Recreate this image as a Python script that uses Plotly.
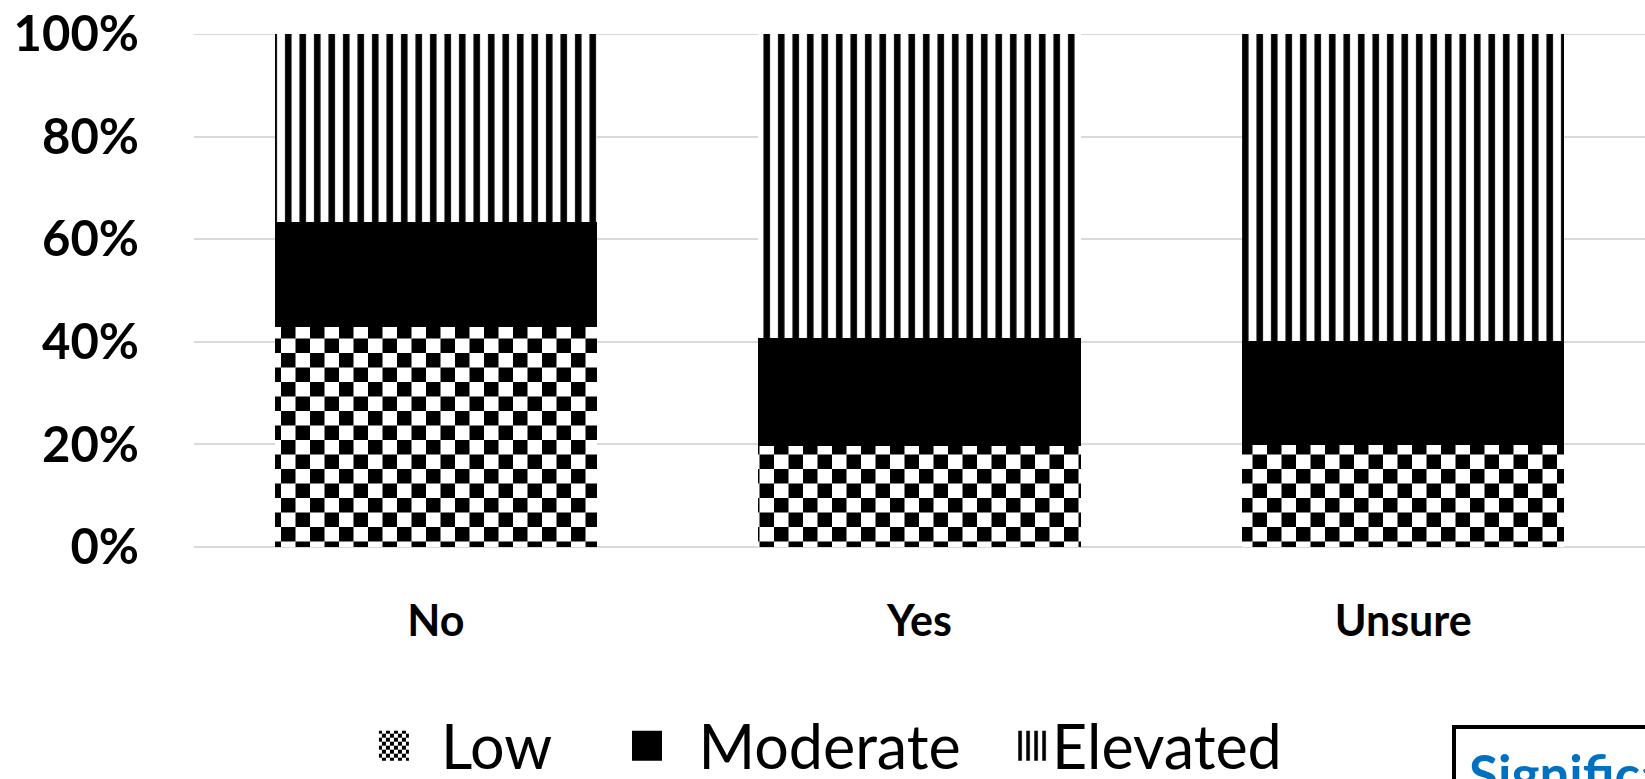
import plotly.graph_objects as go

# Category axis and stacked shares (percent of each group)
categories = ["No", "Yes", "Unsure"]
low = [42.8, 19.7, 19.8]
moderate = [20.5, 21.1, 20.4]
elevated = [36.7, 59.2, 59.8]

series_names = ["Low", "Moderate", "Elevated"]
y_ticks = [0, 20, 40, 60, 80, 100]
y_tick_labels = ["0%", "20%", "40%", "60%", "80%", "100%"]
note_text = "Significant"

FONT = "Lato, 'Open Sans', 'Noto Sans', sans-serif"
GRID = "#d9d9d9"
SWATCH_HALF = 15  # half side of the enlarged legend swatch, px

fig = go.Figure()

# Low: checkerboard texture (dot pattern is swapped for a checker tile after render)
fig.add_trace(go.Bar(
    x=categories, y=low, name=series_names[0], legend="legend",
    marker=dict(color="white", line=dict(width=0),
                pattern=dict(shape=".", size=29, solidity=0.3, fgcolor="black",
                             bgcolor="white", fillmode="replace")),
    hoverinfo="skip",
))
# Moderate: solid black
fig.add_trace(go.Bar(
    x=categories, y=moderate, name=series_names[1], legend="legend2",
    marker=dict(color="black", line=dict(width=0)),
    hoverinfo="skip",
))
# Elevated: vertical stripes
fig.add_trace(go.Bar(
    x=categories, y=elevated, name=series_names[2], legend="legend3",
    marker=dict(color="white", line=dict(width=0),
                pattern=dict(shape="|", size=14.5, solidity=0.45, fgcolor="black",
                             bgcolor="white", fillmode="replace")),
    hoverinfo="skip",
))

legend_font = dict(family=FONT, size=61, color="black")
legend_common = dict(orientation="h", yanchor="middle", xanchor="left", y=-0.388,
                     font=legend_font, bgcolor="rgba(0,0,0,0)", borderwidth=0)

fig.update_layout(
    width=1645, height=779,
    barmode="stack", bargap=0.334,
    paper_bgcolor="white", plot_bgcolor="white",
    margin=dict(l=194, r=0, t=34, b=232, pad=0, autoexpand=False),
    showlegend=True,
    legend=dict(x=0.1054, itemwidth=84, **legend_common),
    legend2=dict(x=0.2767, itemwidth=93, **legend_common),
    legend3=dict(x=0.5638, itemwidth=30, **legend_common),
    xaxis=dict(
        showgrid=False, showline=False, zeroline=False, ticks="",
        tickfont=dict(family=FONT, size=43, color="black", weight="bold"),
        ticklabelstandoff=45,
    ),
    yaxis=dict(
        range=[0, 100], tickvals=y_ticks, ticktext=y_tick_labels,
        showgrid=True, gridcolor=GRID, gridwidth=2,
        zeroline=True, zerolinecolor=GRID, zerolinewidth=2,
        showline=False, ticks="",
        tickfont=dict(family=FONT, size=49, color="black", weight="bold"),
        ticklabelstandoff=54,
    ),
    # top gridline sits on the plot edge, where the axis grid is not drawn
    shapes=[dict(type="line", xref="paper", yref="y", x0=0, x1=1,
                 y0=y_ticks[-1], y1=y_ticks[-1], layer="below",
                 line=dict(color=GRID, width=2))],
    annotations=[dict(
        xref="paper", yref="paper", x=0.867, y=-0.3473,
        xanchor="left", yanchor="top", align="left",
        text=note_text, showarrow=False,
        font=dict(family=FONT, size=53, color="#0070C0", weight="bold"),
        bordercolor="black", borderwidth=4, borderpad=13, bgcolor="white",
    )],
)

post_js = """
var gd = document.getElementById('{plot_id}');
var ns = 'http://www.w3.org/2000/svg';
gd.querySelectorAll('pattern').forEach(function (p) {
  if (!p.querySelector('circle')) return;
  var s = parseFloat(p.getAttribute('width')) / 2;
  while (p.firstChild) p.removeChild(p.firstChild);
  [[0, 0, 2 * s, '#ffffff'], [0, 0, s, '#000000'], [s, s, s, '#000000']].forEach(function (c) {
    var r = document.createElementNS(ns, 'rect');
    r.setAttribute('x', c[0]); r.setAttribute('y', c[1]);
    r.setAttribute('width', c[2]); r.setAttribute('height', c[2]);
    r.setAttribute('fill', c[3]);
    p.appendChild(r);
  });
});
var h = SWATCH_HALF;
gd.querySelectorAll('.legendpoints path').forEach(function (p) {
  p.setAttribute('d', 'M' + h + ',' + h + 'H-' + h + 'V-' + h + 'H' + h + 'Z');
});
""".replace("SWATCH_HALF", str(SWATCH_HALF))

fig.write_html("out.html", config={"displayModeBar": False, "responsive": False},
               post_script=post_js)
